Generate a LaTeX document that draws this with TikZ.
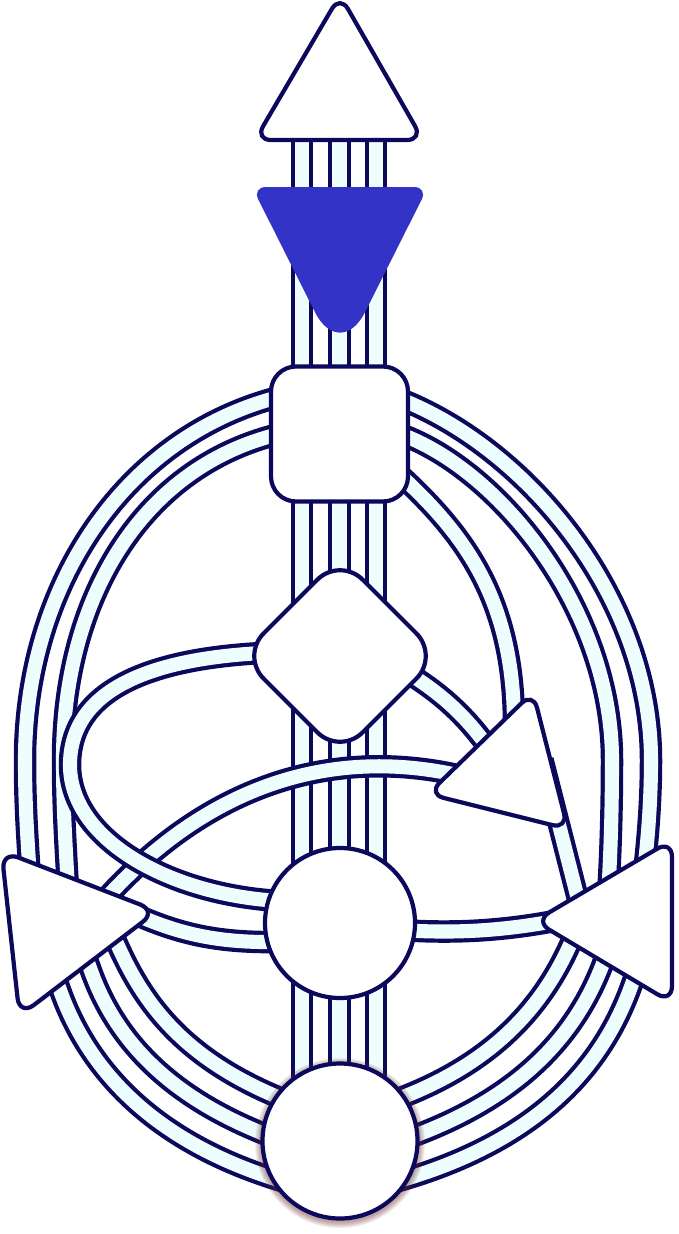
\documentclass[tikz,border=0pt]{standalone}
\usepackage{xcolor}
\definecolor{navy}{RGB}{12,8,92}
\definecolor{chanfill}{RGB}{238,254,254}
\definecolor{ajnablue}{RGB}{52,51,200}
\definecolor{shadowc}{RGB}{110,45,45}
\newcommand\drawchannel[1]{\draw[chanout] #1; \draw[chanin] #1;}
\begin{document}
\begin{tikzpicture}[x=1pt,y=-1pt,
  chanout/.style={draw=navy,line width=22.5pt},
  chanin/.style={draw=chanfill,line width=14.1pt},
  centre/.style={draw=navy,fill=white,line width=4.2pt,line join=round}]
\useasboundingbox (0,0) rectangle (679,1234);
% named reference points
\coordinate (head) at (340,70);
\coordinate (throat) at (339.5,434);
\coordinate (gc) at (340,656);
\coordinate (sacral) at (340,923);
\coordinate (root) at (340,1141);

% vertical channels
\foreach \x in {302,339.5,376} {\drawchannel{(\x,135) -- (\x,1141)}}

% throat - spleen
\drawchannel{(275,398) .. controls (120,440) and (25,590) .. (25,760) .. controls (25,810) and (28,845) .. (30,880)}
\drawchannel{(275,435) .. controls (140,470) and (63,600) .. (63,760) .. controls (63,810) and (66,850) .. (68,890)}
% throat - solar plexus
\drawchannel{(400,399) .. controls (530,450) and (651,600) .. (651,760) .. controls (651,800) and (648,840) .. (643,880)}
\drawchannel{(400,434) .. controls (500,470) and (612,610) .. (612,760) .. controls (612,800) and (611,850) .. (608,895)}
% throat - ego
\drawchannel{(400,475) .. controls (465,535) and (514,600) .. (514,725)}
% G - ego
\drawchannel{(405,671) .. controls (430,687) and (460,707) .. (490,750)}
% ego - solar plexus
\drawchannel{(542.5,760) -- (579.5,905)}
% spleen - root
\drawchannel{(56,979) -- (60,990) .. controls (90,1075) and (160,1145) .. (285,1182)}
\drawchannel{(86,957) -- (90,968) .. controls (115,1040) and (170,1100) .. (280,1140)}
\drawchannel{(114,937) -- (119,948) .. controls (145,1005) and (185,1060) .. (285,1100)}
% solar plexus - root
\drawchannel{(574,936) -- (569,947) .. controls (540,1010) and (490,1065) .. (395,1100)}
\drawchannel{(606,955) -- (602,966) .. controls (575,1035) and (520,1100) .. (400,1141)}
\drawchannel{(636,973) -- (632,984) .. controls (605,1060) and (545,1140) .. (395,1182)}
% spleen - sacral, sacral - solar plexus
\drawchannel{(130,912) .. controls (180,935) and (220,943) .. (280,942)}
\drawchannel{(400,930) .. controls (460,934) and (510,930) .. (565,919)}
% ego - spleen
\drawchannel{(470,778) .. controls (340,745) and (210,780) .. (100,905)}
% G - sacral loop
\drawchannel{(262,653) .. controls (130,660) and (70,700) .. (70,765) .. controls (70,840) and (170,895) .. (280,901)}

% centres
\draw[centre,rounded corners=16pt] (340,-5) -- (423,140) -- (255,140) -- cycle;
\fill[ajnablue] (266,187) -- (414,187) .. controls (421.7,187) and (425.2,192.6) .. (421.7,199.5) -- (365.1,312) .. controls (351.3,339.5) and (328.7,339.5) .. (314.9,312) -- (258.3,199.5) .. controls (254.8,192.6) and (258.3,187) .. (266,187) -- cycle;
\draw[centre,rounded corners=25pt] (271,366.5) rectangle (408,501.5);
\draw[centre,rounded corners=32pt] (340,557) -- (439,656) -- (340,755) -- (241,656) -- cycle;
\draw[centre,rounded corners=16pt] (533,692) -- (568,829) -- (428,794) -- cycle;
\draw[centre,rounded corners=18pt] (1.5,851) -- (157,911) -- (19.5,1016) -- cycle;
\draw[centre,rounded corners=17pt] (672,840) -- (672,1003) -- (534.6,921) -- cycle;
\draw[centre] (sacral) circle[radius=75pt];
\foreach \k in {0,...,7} {\pgfmathsetmacro\rr{79.5+\k*0.8}\fill[shadowc,opacity=0.07] (340,1143) circle[radius=\rr pt];}
\draw[centre] (root) circle[radius=77.5pt];
\end{tikzpicture}
\end{document}
